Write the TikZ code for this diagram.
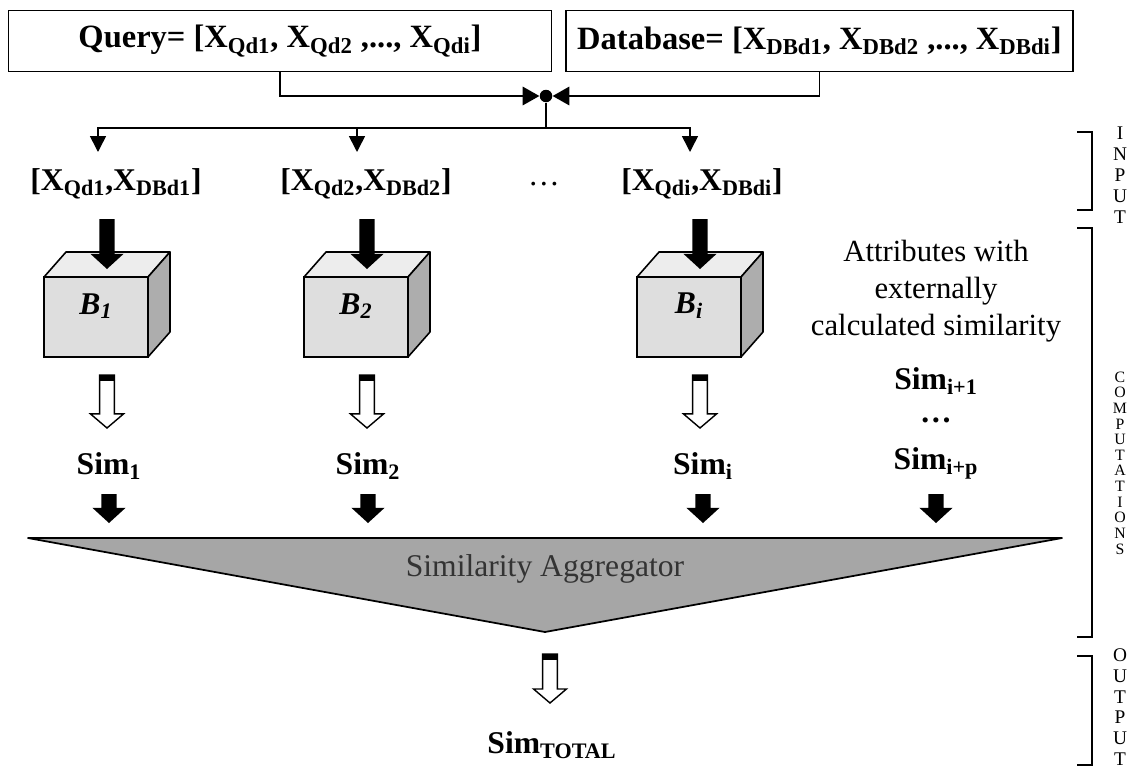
\documentclass[tikz,border=0pt]{standalone}
\usepackage{fontspec}
\setmainfont{Liberation Serif}
\usetikzlibrary{arrows.meta,calc}

% solid block arrow pointing down from #1 to #2
\newcommand\fatarrow[2]{%
  \fill let \p1=(#1), \p2=(#2) in
    (\x1-4.4pt,\y1) -- (\x1-4.4pt,\y2+8.6pt) -- (\x1-9.4pt,\y2+8.6pt) -- (\x1,\y2)
    -- (\x1+9.4pt,\y2+8.6pt) -- (\x1+4.4pt,\y2+8.6pt) -- (\x1+4.4pt,\y1) -- cycle;}

% outlined block arrow with a dark cap, pointing down from #1 to #2
\newcommand\hollowarrow[2]{%
  \draw[line width=0.8pt, fill=white] let \p1=(#1), \p2=(#2) in
    (\x1-4.2pt,\y1) -- (\x1-4.2pt,\y2+8pt) -- (\x1-9.4pt,\y2+8pt) -- (\x1,\y2)
    -- (\x1+9.4pt,\y2+8pt) -- (\x1+4.2pt,\y2+8pt) -- (\x1+4.2pt,\y1) -- cycle;
  \fill let \p1=(#1) in (\x1-4.2pt,\y1) rectangle (\x1+4.2pt,\y1-3.6pt);}

% shaded block: front face node #1 at #2 labelled #3
\newcommand\blockcube[3]{%
  \node[cubeface] (#1) at #2 {};
  \filldraw[fill=black!7, line width=0.9pt, line join=round]
    (#1.north west) -- ++(22,-25) -- ++(104,0) -- (#1.north east) -- cycle;
  \filldraw[fill=black!32, line width=0.9pt, line join=round]
    (#1.north east) -- ++(22,-25) -- ++(0,80) -- (#1.south east) -- cycle;
  \node[cubelabel] (#1-lab) at ($(#1.center)+(0,-11)$) {#3};
  \coordinate (#1-tip) at ($(#1.north)+(11,-8)$);}

\tikzset{
  titlebox/.style={draw, line width=1pt, minimum height=1.22cm, inner sep=0pt,
    outer sep=0pt, font=\fontsize{18.5}{22}\selectfont\bfseries},
  conn/.style={line width=0.9pt},
  tip/.style={-{Triangle[length=9pt,width=9pt]}},
  jtip/.style={-{Triangle[length=9.5pt,width=10.5pt]}},
  pairlabel/.style={font=\fontsize{18}{22}\selectfont\bfseries, inner sep=0pt},
  simlabel/.style={font=\fontsize{18}{22}\selectfont\bfseries, inner sep=0pt},
  attrtext/.style={font=\fontsize{17.5}{21}\selectfont, align=center, inner sep=0pt},
  cubeface/.style={draw, line width=0.9pt, fill=black!13, minimum width=2.08cm,
    minimum height=1.6cm, inner sep=0pt, outer sep=0pt},
  cubelabel/.style={font=\fontsize{18}{22}\selectfont\bfseries\itshape, inner sep=0pt},
  sidetag/.style={align=center, inner sep=0pt},
  bracket/.style={line width=1.1pt},
}

\begin{document}
\begin{tikzpicture}[x=0.02cm, y=-0.02cm]
  \fill[white] (0,0) rectangle (1136,771);
  \useasboundingbox (0,0) rectangle (1136,771);

  % query and database vectors
  \node[titlebox, minimum width=10.86cm] (q) at (280,41)
    {Query= [X\textsubscript{Qd1}, X\textsubscript{Qd2} ,..., X\textsubscript{Qdi}]};
  \node[titlebox, minimum width=10.14cm] (db) at (819.5,41)
    {Database= [X\textsubscript{DBd1}, X\textsubscript{DBd2} ,..., X\textsubscript{DBdi}]};

  % pairing junction
  \node[circle, fill=black, minimum size=0.25cm, inner sep=0pt] (dot) at (546,96) {};
  \draw[conn, jtip] (q.south) |- (dot.west);
  \draw[conn, jtip] (db.south) |- (dot.east);
  \coordinate (bus) at (546,128);
  \draw[conn] (dot) -- (bus);

  % attribute pairs
  \node[pairlabel] (p1) at (116,184) {[X\textsubscript{Qd1},X\textsubscript{DBd1}]};
  \node[pairlabel] (p2) at (366,184) {[X\textsubscript{Qd2},X\textsubscript{DBd2}]};
  \node[font=\fontsize{18}{22}\selectfont, inner sep=0pt] (pdots) at (544,184) {\dots};
  \node[pairlabel] (pi) at (702,184) {[X\textsubscript{Qdi},X\textsubscript{DBdi}]};
  \coordinate (t1) at (98,152);
  \coordinate (t2) at (357,152);
  \coordinate (ti) at (690,152);
  \draw[conn, tip] (bus) -| (t1);
  \draw[conn, tip] (bus) -| (t2);
  \draw[conn, tip] (bus) -| (ti);

  % similarity blocks
  \blockcube{b1}{(96,317)}{B\textsubscript{1}}
  \blockcube{b2}{(356,317)}{B\textsubscript{2}}
  \blockcube{bi}{(689,317)}{B\textsubscript{\itshape i}}

  \coordinate (row1) at (0,219);
  \fatarrow{b1-tip |- row1}{b1-tip}
  \fatarrow{b2-tip |- row1}{b2-tip}
  \fatarrow{bi-tip |- row1}{bi-tip}

  % block outputs
  \coordinate (hrow) at (0,375);
  \coordinate (hrowtip) at (0,428);
  \hollowarrow{b1-tip |- hrow}{b1-tip |- hrowtip}
  \hollowarrow{b2-tip |- hrow}{b2-tip |- hrowtip}
  \hollowarrow{bi-tip |- hrow}{bi-tip |- hrowtip}

  \node[simlabel] (s1) at (109,466) {Sim\textsubscript{1}};
  \node[simlabel] (s2) at (368,466) {Sim\textsubscript{2}};
  \node[simlabel] (si) at (703,466) {Sim\textsubscript{i}};

  % externally computed similarities
  \node[attrtext] (attr) at (936,291) {Attributes with\\externally\\calculated similarity};
  \node[simlabel] (sp1) at (936,381) {Sim\textsubscript{i+1}};
  \node[simlabel] (spdots) at (936,420) {\dots};
  \node[simlabel] (spp) at (936,463) {Sim\textsubscript{i+p}};

  % inputs to the aggregator
  \coordinate (row2) at (0,494);
  \coordinate (row2tip) at (0,523);
  \fatarrow{s1 |- row2}{s1 |- row2tip}
  \fatarrow{s2 |- row2}{s2 |- row2tip}
  \fatarrow{si |- row2}{si |- row2tip}
  \fatarrow{spp |- row2}{spp |- row2tip}

  % aggregator
  \filldraw[fill=black!35, line width=1pt, line join=round]
    (28,538) -- (1062,538) -- (545,632) -- cycle;
  \node[font=\fontsize{18}{22}\selectfont, text=black!80, inner sep=0pt] (agg) at (545,569)
    {Similarity Aggregator};

  % total similarity
  \coordinate (tot) at (550,654);
  \coordinate (totip) at (550,703);
  \hollowarrow{tot}{totip}
  \node[simlabel] (stot) at (552,745) {Sim\textsubscript{TOTAL}};

  % stage brackets
  \draw[bracket] (1077,132) -- (1092,132) -- (1092,210) -- (1077,210);
  \draw[bracket] (1077,228) -- (1092,228) -- (1092,637) -- (1077,637);
  \draw[bracket] (1077,656) -- (1092,656) -- (1092,765) -- (1077,765);
  \node[sidetag, font=\fontsize{11}{12}\selectfont] (lin) at (1120,175) {I\\N\\P\\U\\T};
  \node[sidetag, font=\fontsize{9}{8.9}\selectfont] (lcomp) at (1120,463)
    {C\\O\\M\\P\\U\\T\\A\\T\\I\\O\\N\\S};
  \node[sidetag, font=\fontsize{11}{11.8}\selectfont] (lout) at (1120,707) {O\\U\\T\\P\\U\\T};
\end{tikzpicture}
\end{document}
